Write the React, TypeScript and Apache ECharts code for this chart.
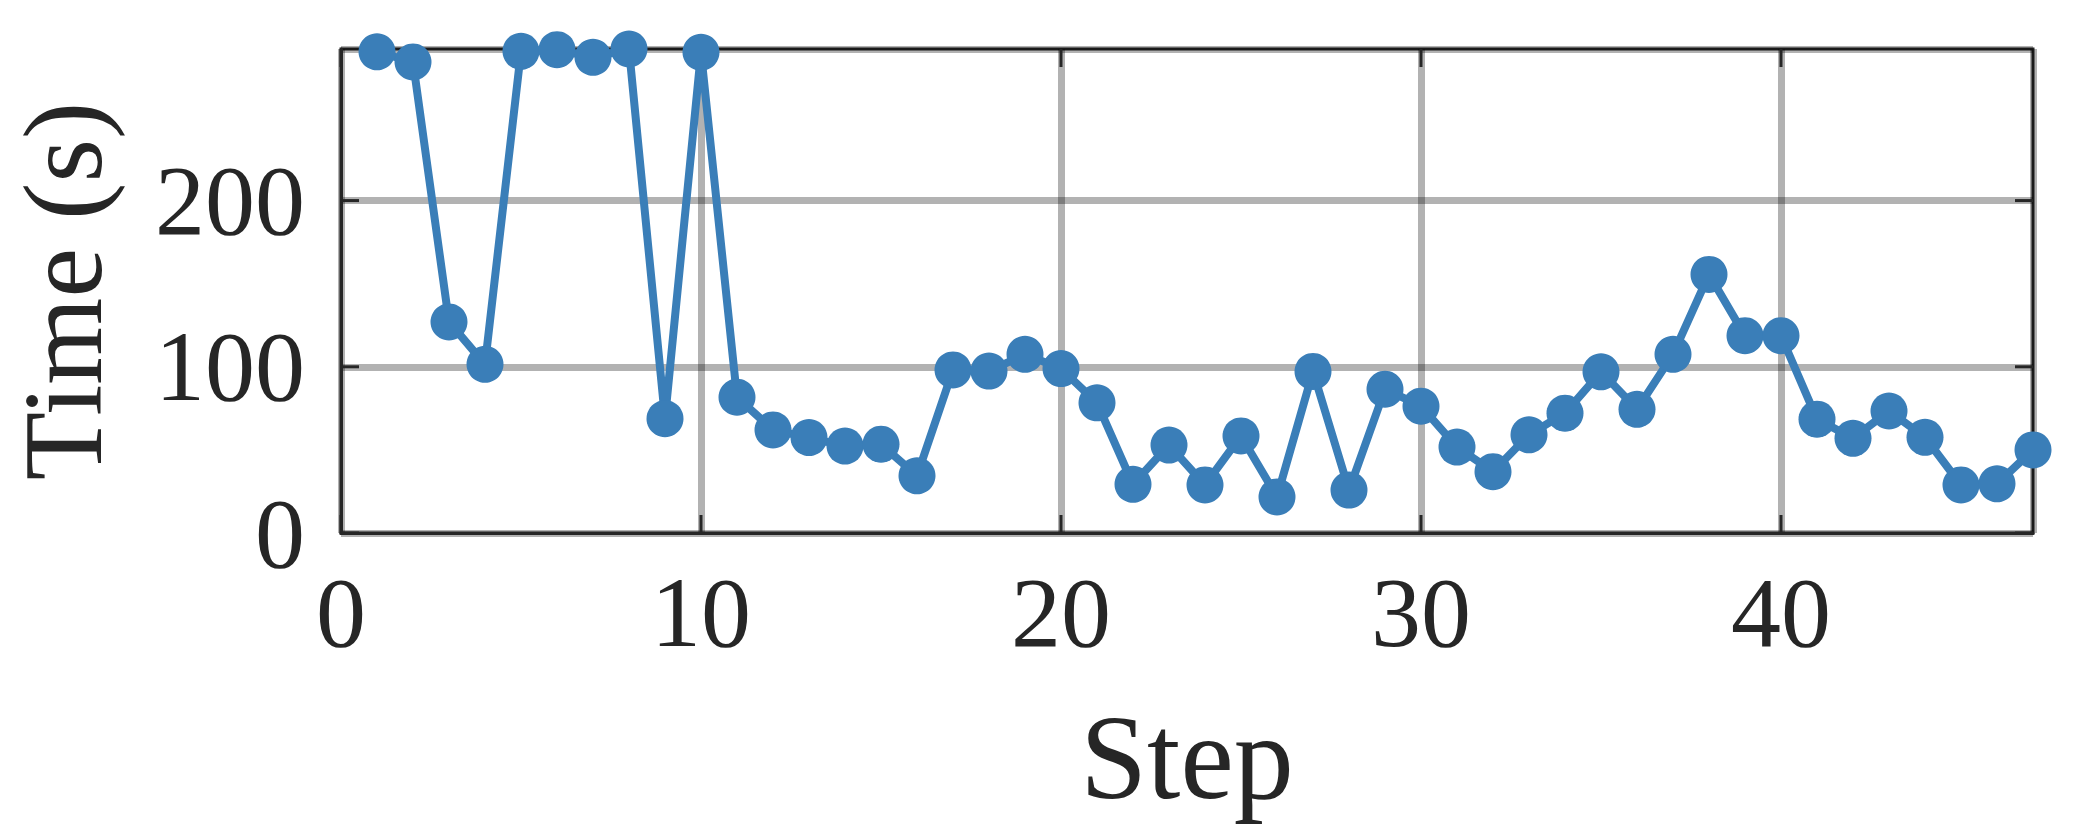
import React, { useEffect, useRef } from "react";
import * as echarts from "echarts";

const steps: number[] = [
  1, 2, 3, 4, 5, 6, 7, 8, 9, 10, 11, 12, 13, 14, 15, 16, 17, 18, 19, 20, 21, 22, 23, 24,
  25, 26, 27, 28, 29, 30, 31, 32, 33, 34, 35, 36, 37, 38, 39, 40, 41, 42, 43, 44, 45, 46, 47,
];
const times: number[] = [
  289.5, 283.4, 127, 101.5, 289.8, 290.8, 286.2, 291.2, 68.8, 289.2, 81.7, 62, 57.4, 52.3,
  53.4, 34.4, 98.1, 97.4, 107.5, 98.9, 78.3, 29.3, 52.9, 28.9, 58.4, 21.7, 97.2, 25.8, 86.5,
  76.3, 51.7, 36.9, 59.1, 72.1, 97.0, 74.4, 107.5, 155.6, 118.7, 118.7, 68.5, 57.0, 73.4,
  57.6, 28.9, 29.6, 50.0,
];
const xTicks: number[] = [0, 10, 20, 30, 40];
const yTicks: number[] = [0, 100, 200];
const xLabel = "Step";
const yLabel = "Time (s)";

const FONT = "'Liberation Serif', 'DejaVu Serif', serif";
const INK = "#262626";
const BLUE = "#3a7eb8";
const TICK_LEN = 18;

export default function App() {
  const ref = useRef<HTMLDivElement>(null);
  useEffect(() => {
    document.body.style.margin = "0";
    if (!ref.current) return;
    const chart = echarts.init(ref.current, null, { renderer: "svg" });
    const xMax = steps[steps.length - 1];
    const yMax = Math.max(...times);
    const pts = steps.map((s, i) => [s, times[i]]);
    const tickLine = (x1: number, y1: number, x2: number, y2: number) => ({
      type: "line",
      shape: { x1, y1, x2, y2 },
      style: { stroke: INK, lineWidth: 3 },
    });
    chart.setOption({
      animation: false,
      backgroundColor: "#ffffff",
      grid: {
        left: 341,
        top: 49,
        width: 1692,
        height: 484,
        containLabel: false,
        outerBoundsMode: "none",
        show: true,
        borderColor: INK,
        borderWidth: 3,
        backgroundColor: "transparent",
      },
      xAxis: {
        type: "value",
        min: 0,
        max: xMax,
        interval: 10,
        position: "bottom",
        axisLine: { show: true, lineStyle: { color: INK, width: 3 } },
        axisTick: { show: false },
        splitLine: { show: true, lineStyle: { color: "rgba(0,0,0,0.3)", width: 7 } },
        axisLabel: {
          show: true,
          showMaxLabel: false,
          margin: 29,
          color: INK,
          fontFamily: FONT,
          fontSize: 100,
          formatter: (v: number) => (xTicks.includes(v) ? String(v) : ""),
        },
        name: xLabel,
        nameLocation: "middle",
        nameGap: 164,
        nameTextStyle: { color: INK, fontFamily: FONT, fontSize: 120 },
      },
      yAxis: {
        type: "value",
        min: 0,
        max: yMax,
        interval: 100,
        position: "left",
        axisLine: { show: true, lineStyle: { color: INK, width: 3 } },
        axisTick: { show: false },
        splitLine: { show: true, lineStyle: { color: "rgba(0,0,0,0.3)", width: 7 } },
        axisLabel: {
          show: true,
          showMaxLabel: false,
          margin: 36,
          color: INK,
          fontFamily: FONT,
          fontSize: 100,
          formatter: (v: number) => (yTicks.includes(v) ? String(v) : ""),
        },
        name: yLabel,
        nameLocation: "middle",
        nameGap: 222,
        nameRotate: 90,
        nameTextStyle: { color: INK, fontFamily: FONT, fontSize: 112 },
      },
      series: [
        {
          type: "custom",
          silent: true,
          clip: false,
          z: 3,
          data: xTicks.map((v) => [v, 0]),
          renderItem: (_p: any, api: any) => {
            const x = api.coord([api.value(0), 0])[0];
            const yb = api.coord([0, 0])[1];
            const yt = api.coord([0, yMax])[1];
            return {
              type: "group",
              children: [tickLine(x, yb, x, yb - TICK_LEN), tickLine(x, yt, x, yt + TICK_LEN)],
            };
          },
        },
        {
          type: "custom",
          silent: true,
          clip: false,
          z: 3,
          data: yTicks.map((v) => [0, v]),
          renderItem: (_p: any, api: any) => {
            const y = api.coord([0, api.value(1)])[1];
            const xl = api.coord([0, 0])[0];
            const xr = api.coord([xMax, 0])[0];
            return {
              type: "group",
              children: [tickLine(xl, y, xl + TICK_LEN, y), tickLine(xr, y, xr - TICK_LEN, y)],
            };
          },
        },
        {
          type: "line",
          data: pts,
          symbol: "circle",
          symbolSize: 37,
          clip: false,
          lineStyle: { color: BLUE, width: 8 },
          itemStyle: { color: BLUE, borderWidth: 0 },
          z: 5,
        },
      ],
    });
    return () => chart.dispose();
  }, []);
  return <div ref={ref} style={{ width: 2083, height: 833 }} />;
}
